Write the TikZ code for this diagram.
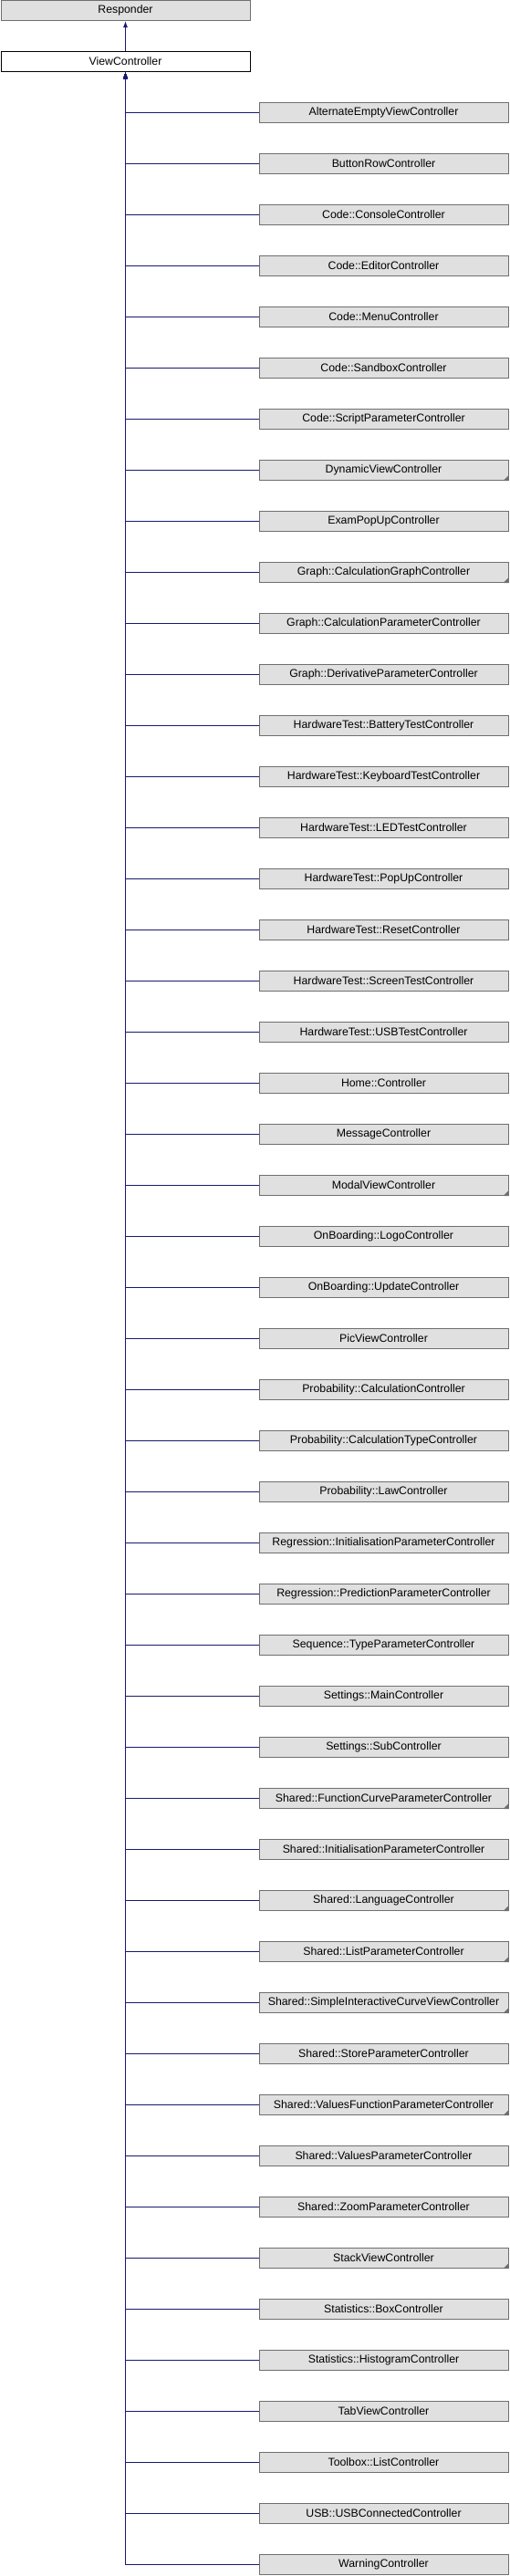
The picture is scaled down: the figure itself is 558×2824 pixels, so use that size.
\documentclass[tikz,border=0pt]{standalone}
\usepackage{fontspec}
\setmainfont{Liberation Sans}
\usepackage{tikz}
\usetikzlibrary{arrows.meta}

\definecolor{edgeblue}{HTML}{191970}
\definecolor{boxfill}{HTML}{E0E0E0}
\definecolor{boxline}{HTML}{6F6F6F}

\tikzset{
  classbox/.style={draw=boxline, fill=boxfill, line width=1pt, rectangle,
    minimum width=273pt, minimum height=22pt, inner sep=0pt,
    font=\fontsize{12.3}{14}\selectfont},
  currentbox/.style={classbox, draw=black, fill=white},
  inherit/.style={draw=edgeblue, line width=1pt, -{Latex[length=7pt,width=5pt]}},
  foldcorner/.style={fill=boxline}
}

\begin{document}
\begin{tikzpicture}[x=1pt,y=-1pt]
    \useasboundingbox (0,0) rectangle (558,2824);
    \node[classbox] (resp) at (137.5,11.5) {Responder};
    \node[currentbox] (vc) at (137.5,67.5) {ViewController};
    \draw[inherit] (vc.north) -- (resp.south);
    % derived classes
    \foreach \name [count=\i] in {AlternateEmptyViewController, ButtonRowController,
        Code::ConsoleController, Code::EditorController, Code::MenuController,
        Code::SandboxController, Code::ScriptParameterController, DynamicViewController,
        ExamPopUpController, Graph::CalculationGraphController,
        Graph::CalculationParameterController, Graph::DerivativeParameterController,
        HardwareTest::BatteryTestController, HardwareTest::KeyboardTestController,
        HardwareTest::LEDTestController, HardwareTest::PopUpController,
        HardwareTest::ResetController, HardwareTest::ScreenTestController,
        HardwareTest::USBTestController, Home::Controller, MessageController,
        ModalViewController, OnBoarding::LogoController, OnBoarding::UpdateController,
        PicViewController, Probability::CalculationController,
        Probability::CalculationTypeController, Probability::LawController,
        Regression::InitialisationParameterController,
        Regression::PredictionParameterController, Sequence::TypeParameterController,
        Settings::MainController, Settings::SubController,
        Shared::FunctionCurveParameterController,
        Shared::InitialisationParameterController, Shared::LanguageController,
        Shared::ListParameterController, Shared::SimpleInteractiveCurveViewController,
        Shared::StoreParameterController, Shared::ValuesFunctionParameterController,
        Shared::ValuesParameterController, Shared::ZoomParameterController,
        StackViewController, Statistics::BoxController, Statistics::HistogramController,
        TabViewController, Toolbox::ListController, USB::USBConnectedController,
        WarningController} {
      \node[classbox] (c\i) at (420.5,{123.5+56*(\i-1)}) {\name};
      \draw[inherit] (c\i.west) -| (vc.south);
    }
    % classes with more derived classes
    \foreach \i in {8,10,22,34,36,37,38,40,43}
      \fill[foldcorner] (c\i.south east) -- ++(-6pt,0pt) -- ++(6pt,6pt) -- cycle;
  \end{tikzpicture}
\end{document}
